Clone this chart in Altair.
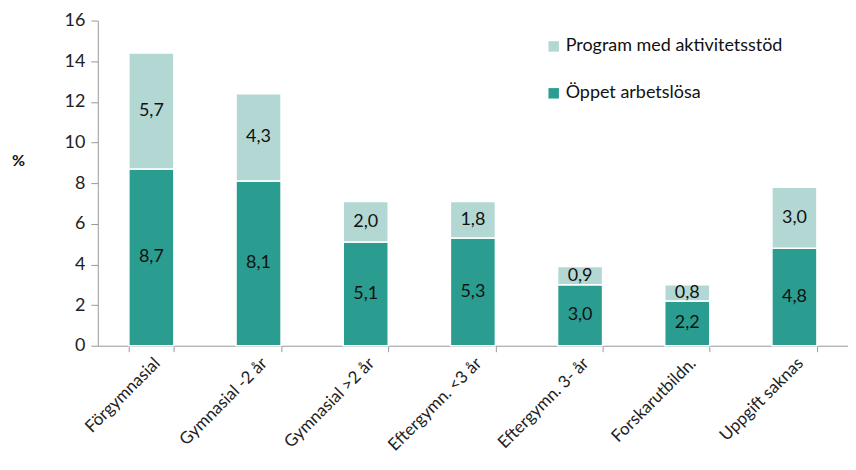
import altair as alt
import pandas as pd

categories = ["Förgymnasial", "Gymnasial -2 år", "Gymnasial >2 år", "Eftergymn. <3 år",
              "Eftergymn. 3- år", "Forskarutbildn.", "Uppgift saknas"]
oppet = [8.7, 8.1, 5.1, 5.3, 3.0, 2.2, 4.8]
program = [5.7, 4.3, 2.0, 1.8, 0.9, 0.8, 3.0]
series = ["Program med aktivitetsstöd", "Öppet arbetslösa"]
colors = ["#b3d8d4", "#2a9d90"]

rows = []
for c, o, p in zip(categories, oppet, program):
    rows.append({"cat": c, "serie": "Öppet arbetslösa", "value": o, "ord": 0})
    rows.append({"cat": c, "serie": "Program med aktivitetsstöd", "value": p, "ord": 1})
df = pd.DataFrame(rows)
df["label"] = df["value"].map(lambda v: f"{v:.1f}".replace(".", ","))

FONT = "Lato"

base = alt.Chart(df).transform_stack(
    stack="value", groupby=["cat"], as_=["y0", "y1"], sort=[alt.SortField("ord")]
).transform_calculate(mid="(datum.y0 + datum.y1) / 2")

x = alt.X("cat:N", sort=categories, title=None,
          scale=alt.Scale(paddingInner=0.58, paddingOuter=0.29),
          axis=alt.Axis(labelAngle=-45, labelFontSize=17, labelColor="#222", labelFont=FONT,
                        domainColor="#999", tickColor="#999", tickSize=6, tickBand="extent",
                        labelPadding=3, labelLimit=0))

bars = base.mark_bar(stroke="white", strokeWidth=1.5).encode(
    x=x,
    y=alt.Y("y0:Q", title="%", scale=alt.Scale(domain=[0, 16]),
            axis=alt.Axis(values=list(range(0, 17, 2)), grid=False, labelFontSize=18,
                          labelColor="#222", labelFont=FONT, domainColor="#999",
                          tickColor="#999", tickSize=7, labelPadding=6,
                          titleAngle=0, titleFontWeight="bold", titleFontSize=16,
                          titleFont=FONT, titleX=-80, titleY=140, titleAlign="center",
                          titleBaseline="middle", titleColor="#111")),
    y2="y1:Q",
    color=alt.Color("serie:N", scale=alt.Scale(domain=series, range=colors),
                    legend=alt.Legend(title=None, orient="none", legendX=448, legendY=17,
                                      symbolType="square", symbolSize=110,
                                      symbolStrokeWidth=0, labelFontSize=18,
                                      labelFont=FONT, labelColor="#111", labelLimit=0,
                                      rowPadding=29, labelOffset=3)),
)

texts = base.mark_text(fontSize=18, font=FONT, color="#111").encode(
    x=alt.X("cat:N", sort=categories),
    y="mid:Q",
    text="label:N",
)

chart = (bars + texts).properties(
    width=752, height=326,
    autosize=alt.AutoSizeParams(type="none"),
    padding={"left": 90, "top": 12, "right": 0, "bottom": 110},
).configure_view(stroke=None)

chart.save("out.html", embed_options={"renderer": "svg", "actions": False})
